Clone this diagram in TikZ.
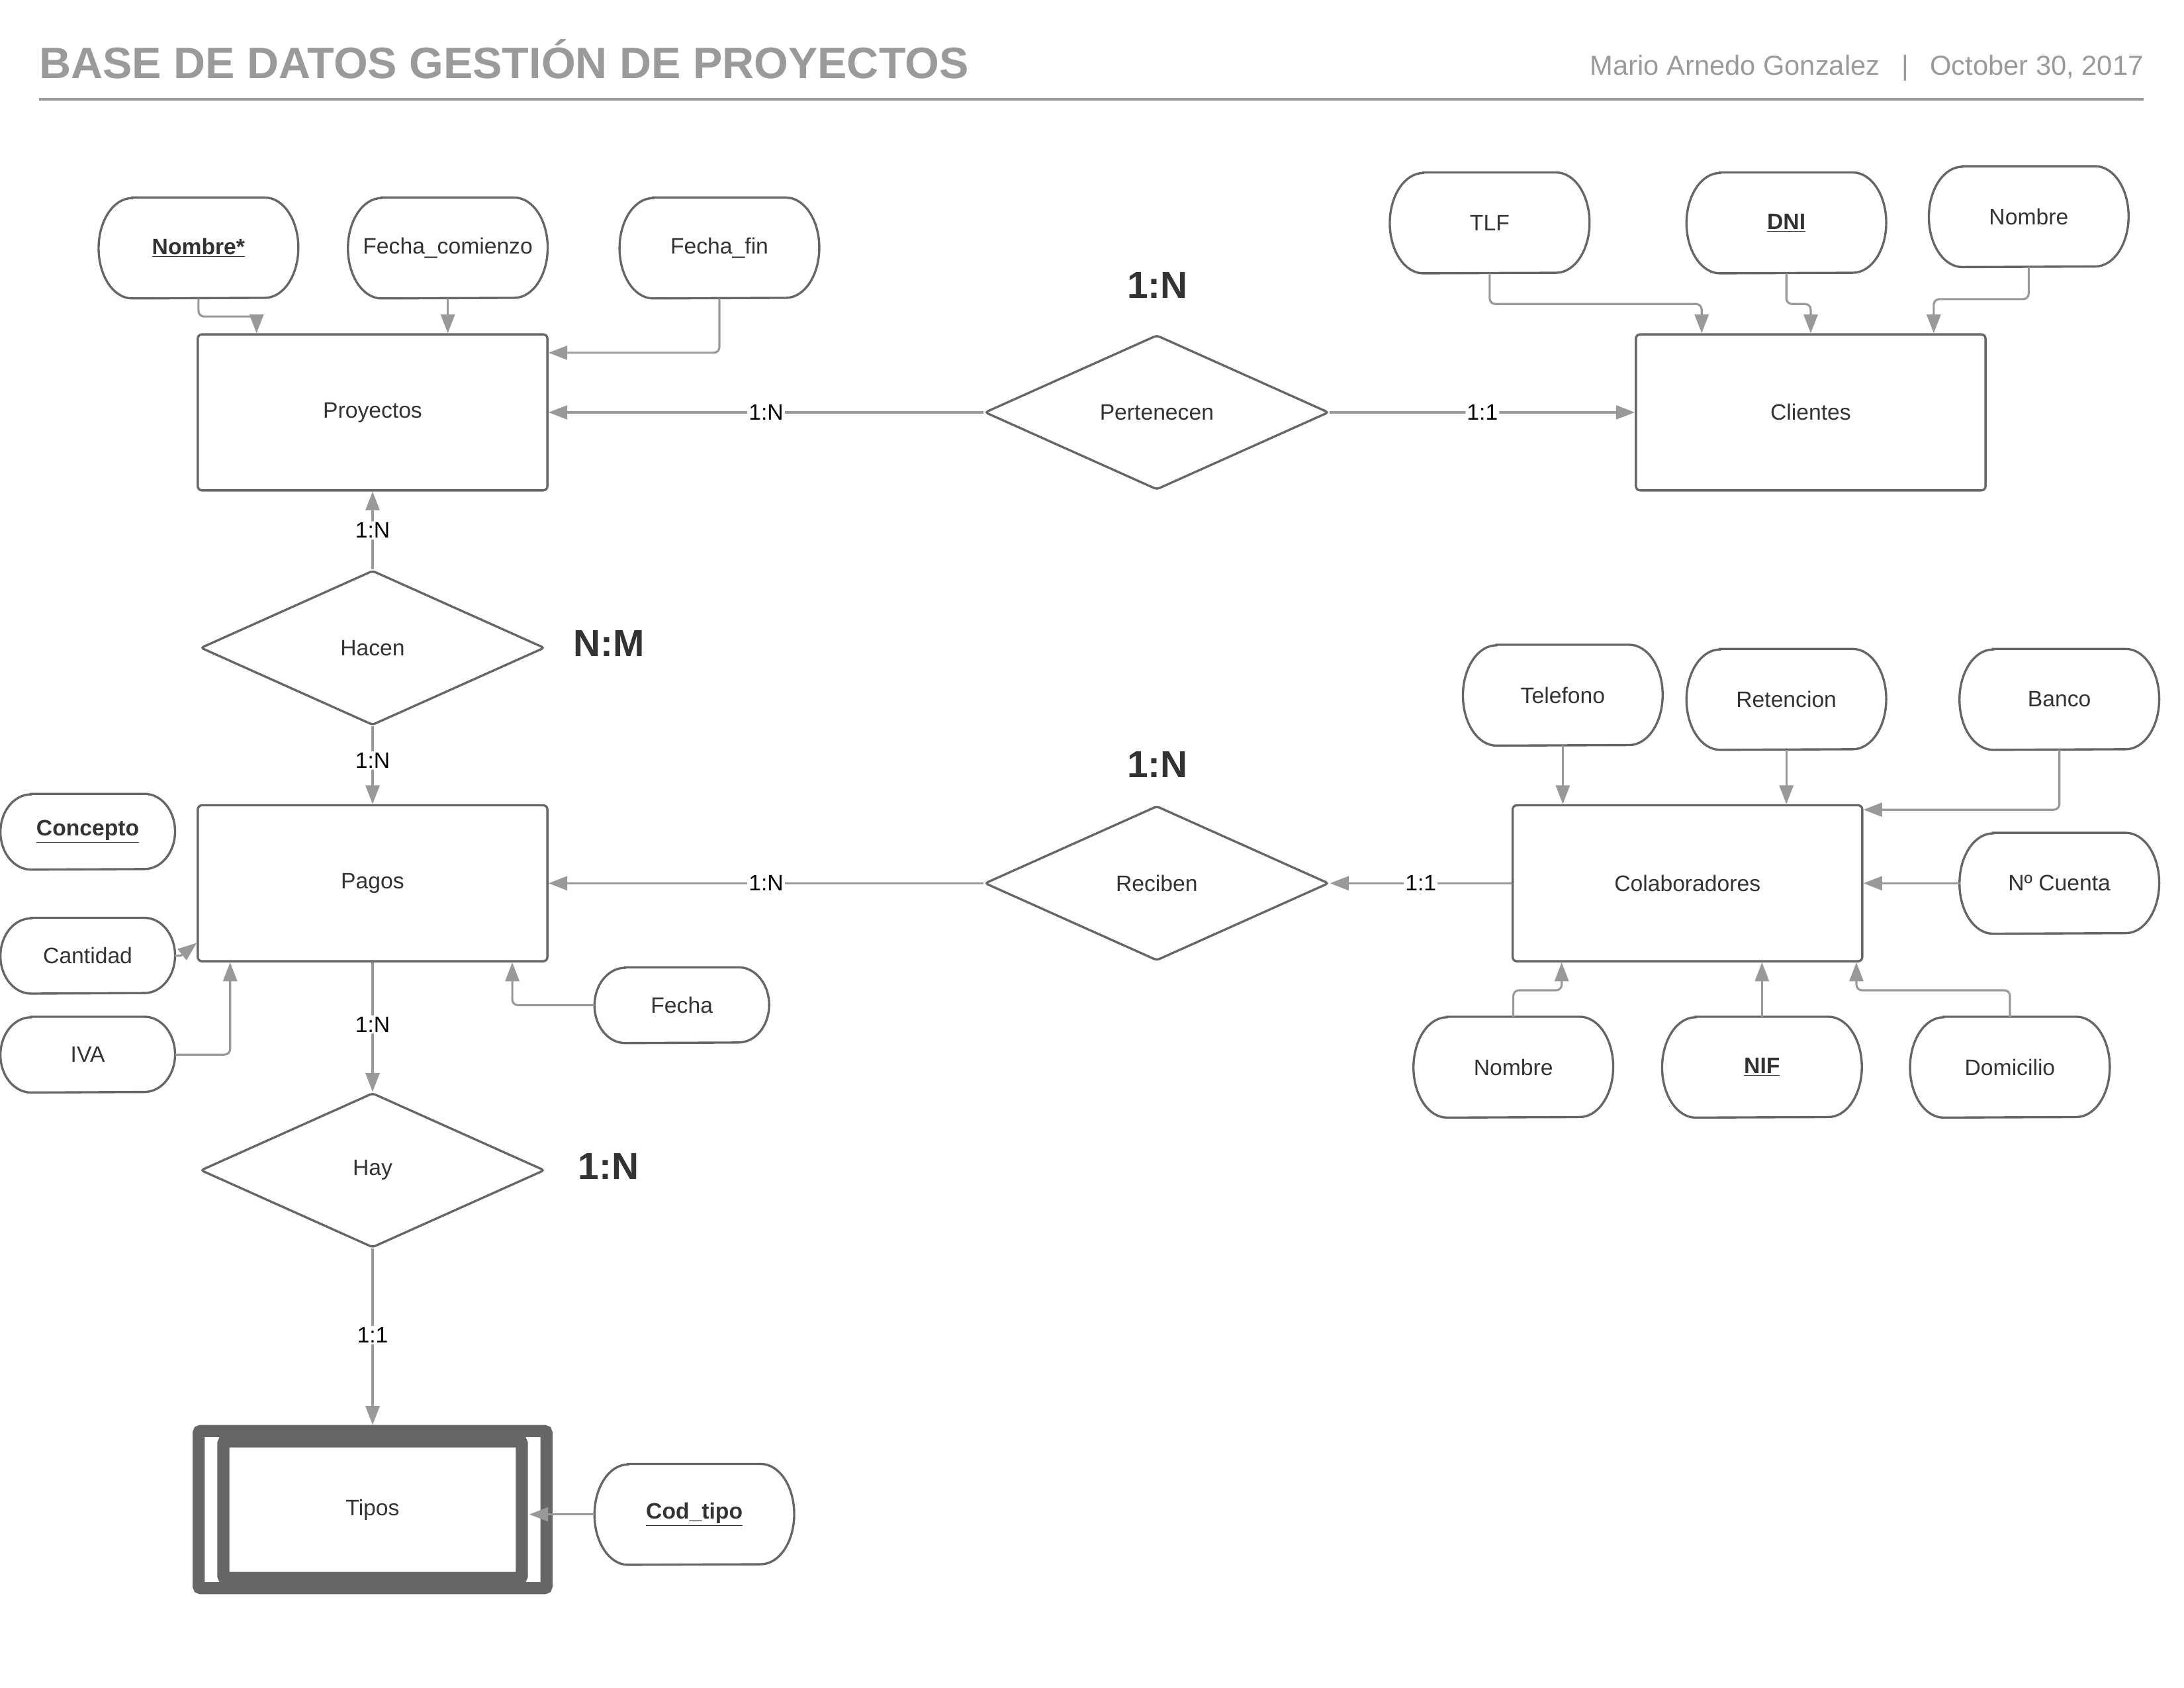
\documentclass[tikz,border=0pt]{standalone}
\usepackage{fontspec}
\setmainfont{Liberation Sans}
\usetikzlibrary{arrows.meta,shapes.geometric}
\definecolor{shapeline}{HTML}{666666}
\definecolor{connc}{HTML}{999999}
\definecolor{txt}{HTML}{333333}
\definecolor{headgray}{HTML}{9A9A9A}
\newcommand\attrdraw[3]{%
  \draw[attrline] ([xshift=#2]#1.north west) -- ([xshift=-#2]#1.north east)
    arc[start angle=90, end angle=-90, x radius=#2, y radius=#3]
    -- ([xshift=#2]#1.south west)
    arc[start angle=270, end angle=90, x radius=#2, y radius=#3] -- cycle;}
\begin{document}
\begin{tikzpicture}[x=1pt,y=-1pt,
  every node/.style={font=\fontsize{16}{19}\selectfont, text=txt},
  entity/.style={draw=shapeline, line width=1.6pt, rounded corners=3pt, minimum width=251pt, minimum height=112pt, inner sep=0pt},
  rel/.style={diamond, draw=shapeline, line width=1.6pt, rounded corners=2pt, minimum width=247pt, minimum height=111pt, inner sep=0pt},
  attr/.style={minimum width=143pt, minimum height=72pt, inner sep=0pt},
  sattr/.style={minimum width=125pt, minimum height=54pt, inner sep=0pt},
  attrline/.style={draw=shapeline, line width=1.6pt},
  conn/.style={draw=connc, line width=1.5pt, rounded corners=4pt, -{Triangle[length=13.5pt,width=10pt]}},
  elabel/.style={fill=white, inner sep=1pt, text=black},
  big/.style={font=\bfseries\fontsize{27}{32}\selectfont, text=txt},
]
\useasboundingbox (0,0) rectangle (1568,1211.6);

% header
\node[anchor=base west, inner sep=0pt, font=\bfseries\fontsize{31.6}{36}\selectfont, text=headgray] (title) at (28,56.5) {BASE DE DATOS GESTIÓN DE PROYECTOS};
\node[anchor=base east, inner sep=0pt, font=\fontsize{19.8}{23}\selectfont, text=headgray] (author) at (1539,54) {Mario Arnedo Gonzalez\hspace{15.5pt}|\hspace{15.5pt}October 30, 2017};
\coordinate (hl) at (28,71.3);
\coordinate (hr) at (1539,71.3);
\draw[draw=headgray, line width=2pt] (hl) -- (hr);

% entities
\node[entity] (proy) at (267.5,296) {Proyectos};
\node[entity] (cli) at (1300,296) {Clientes};
\node[entity] (pagos) at (267.5,634) {Pagos};
\node[entity] (colab) at (1211.5,634) {Colaboradores};
\node[draw=shapeline, line width=8.7pt, rounded corners=1.5pt, minimum width=249.7pt, minimum height=112.8pt, inner sep=0pt] (tipos) at (267.5,1083.55) {};
\node[draw=shapeline, line width=8.7pt, rounded corners=1.5pt, minimum width=214.3pt, minimum height=98pt, inner sep=0pt, fill=white] (tiposin) at (267.5,1083.6) {Tipos};

% relationships
\node[rel] (pert) at (830.5,296) {Pertenecen};
\node[rel] (hacen) at (267.5,465) {Hacen};
\node[rel] (rec) at (830.5,634) {Reciben};
\node[rel] (hay) at (267.5,840) {Hay};

% cardinality labels
\node[big] (b1) at (831,205) {1:N};
\node[big] (b2) at (437,462) {N:M};
\node[big] (b3) at (831,549) {1:N};
\node[big] (b4) at (437,837) {1:N};

% attributes
\node[attr] (pnom) at (142.5,178) {\underline{\textbf{Nombre*}}};
\node[attr] (pfc) at (321.5,178) {Fecha\_comienzo};
\node[attr] (pff) at (516.5,178) {Fecha\_fin};
\node[attr] (ctlf) at (1069.5,160) {TLF};
\node[attr] (cdni) at (1282.5,160) {\underline{\textbf{DNI}}};
\node[attr] (cnom) at (1456.5,155.5) {Nombre};
\node[sattr] (conc) at (63,597) {\underline{\textbf{Concepto}}};
\node[sattr] (cant) at (63,686) {Cantidad};
\node[sattr] (iva) at (63,757) {IVA};
\node[sattr] (fecha) at (489.5,721.5) {Fecha};
\node[attr] (tel) at (1122,499) {Telefono};
\node[attr] (ret) at (1282.5,502) {Retencion};
\node[attr] (banco) at (1478.5,502) {Banco};
\node[attr] (cuenta) at (1478.5,634) {Nº Cuenta};
\node[attr] (knom) at (1086.5,766) {Nombre};
\node[attr] (nif) at (1265,766) {\underline{\textbf{NIF}}};
\node[attr] (dom) at (1443,766) {Domicilio};
\node[attr] (cod) at (498.5,1087) {\underline{\textbf{Cod\_tipo}}};

\foreach \n in {pnom,pfc,pff,ctlf,cdni,cnom,tel,ret,banco,cuenta,knom,nif,dom,cod} {\attrdraw{\n}{24pt}{36pt}}
\foreach \n in {conc,cant,iva,fecha} {\attrdraw{\n}{22pt}{27pt}}

% attribute connectors
\draw[conn] (pnom.south) -- ++(0,13) -| ([xshift=43pt]proy.north west);
\draw[conn] (pfc.south) -- (pfc.south |- proy.north);
\draw[conn] (pff.south) |- ([yshift=-14pt]proy.north east);
\draw[conn] (ctlf.south) -- ++(0,22) -| ([xshift=48pt]cli.north west);
\draw[conn] (cdni.south) -- ++(0,22) -| (cli.north);
\draw[conn] (cnom.south) -- ++(0,23) -| ([xshift=-38pt]cli.north east);
\draw[conn, rounded corners=0pt] (cant.east) -- ++(4,0) -- ([yshift=14pt]pagos.south west);
\draw[conn] (iva.east) -| ([xshift=24pt]pagos.south west);
\draw[conn] (fecha.west) -| ([xshift=-26pt]pagos.south east);
\draw[conn] (tel.south) -- (tel.south |- colab.north);
\draw[conn] (ret.south) -- (ret.south |- colab.north);
\draw[conn] (banco.south) |- ([yshift=-4pt]colab.north east);
\draw[conn] (cuenta.west) -- (cuenta.west -| colab.east);
\draw[conn] (knom.north) -- ++(0,-19) -| ([xshift=36pt]colab.south west);
\draw[conn] (nif.north) -- (nif.north |- colab.south);
\draw[conn] (dom.north) -- ++(0,-19) -| ([xshift=-5pt]colab.south east);
\draw[conn] (cod.west) -- ([xshift=1pt]cod.west -| tiposin.east);

% relationship connectors
\draw[conn] (pert.west) -- (proy.east) node[elabel, midway] {1:N};
\draw[conn] (pert.east) -- (cli.west) node[elabel, midway] {1:1};
\draw[conn] (hacen.north) -- (proy.south) node[elabel, midway] {1:N};
\draw[conn] (hacen.south) -- (pagos.north) node[elabel, pos=0.44] {1:N};
\draw[conn] (rec.west) -- (pagos.east) node[elabel, midway] {1:N};
\draw[conn] (colab.west) -- (rec.east) node[elabel, midway] {1:1};
\draw[conn] (pagos.south) -- (hay.north) node[elabel, pos=0.48] {1:N};
\draw[conn] (hay.south) -- (tipos.north) node[elabel, pos=0.49] {1:1};
\end{tikzpicture}
\end{document}
